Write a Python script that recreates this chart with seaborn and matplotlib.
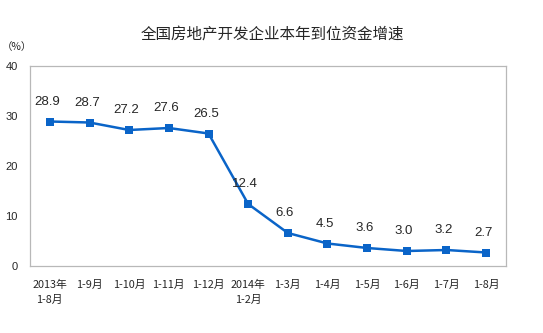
import matplotlib
matplotlib.use("Agg")
import matplotlib.pyplot as plt
import seaborn as sns
import pandas as pd
import numpy as np

periods = ["2013年\n1-8月", "1-9月", "1-10月", "1-11月", "1-12月", "2014年\n1-2月",
           "1-3月", "1-4月", "1-5月", "1-6月", "1-7月", "1-8月"]
growth = [28.9, 28.7, 27.2, 27.6, 26.5, 12.4, 6.6, 4.5, 3.6, 3.0, 3.2, 2.7]
y_ticks = [0, 10, 20, 30, 40]

sns.set_style("white")
plt.rcParams["font.family"] = ["Noto Sans CJK SC", "DejaVu Sans"]

df = pd.DataFrame({"pos": np.arange(len(periods)), "growth": growth})

fig = plt.figure(figsize=(5.43, 3.33), dpi=100)
ax = fig.add_axes([30 / 543, 1 - 266 / 333, 476 / 543, 200 / 333])

line_color = "#0a64c8"
sns.lineplot(data=df, x="pos", y="growth", ax=ax, color=line_color, linewidth=1.8,
             marker="s", markersize=5.5, markeredgewidth=0, legend=False)

for x, v in zip(df["pos"], growth):
    ax.annotate(f"{v:.1f}", (x, v), xytext=(-2, 10), textcoords="offset points",
                ha="center", va="bottom", fontsize=9.5, family="Liberation Sans")

ax.set_xlim(-0.5, len(periods) - 0.5)
ax.set_ylim(0, 40)
ax.set_yticks(y_ticks)
ax.set_yticklabels([str(t) for t in y_ticks], fontsize=8, family="Liberation Sans")
ax.set_xticks(np.arange(len(periods)))
ax.set_xticklabels(periods, fontsize=7.8, linespacing=1.6)
for lbl in ax.get_xticklabels():
    lbl.set_verticalalignment("top")
ax.tick_params(axis="x", length=0, pad=10)
ax.set_xticks(np.arange(len(periods) + 1) - 0.5, minor=True)
ax.tick_params(axis="x", which="minor", direction="in", length=4, color="#b0b0b0", width=0.8)
ax.tick_params(axis="y", direction="out", length=3, color="#b0b0b0", width=0.8, pad=6)
ax.set_xlabel("")
ax.set_ylabel("")

for s in ax.spines.values():
    s.set_color("#b8b8b8")
    s.set_linewidth(0.9)

fig.text(272 / 543, 1 - 34 / 333, "全国房地产开发企业本年到位资金增速", ha="center", va="center",
         fontsize=11.2)
fig.text(2 / 543, 1 - 47 / 333, "（%）", ha="left", va="center", fontsize=7.5)

fig.savefig("out.png", dpi=100)
